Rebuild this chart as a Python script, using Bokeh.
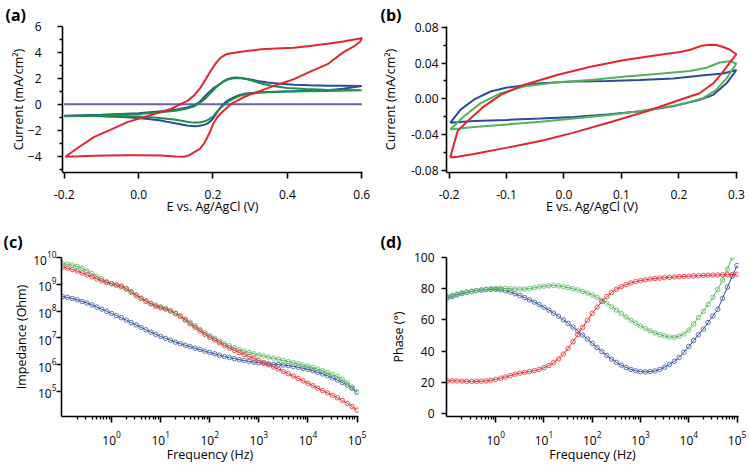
from bokeh.plotting import figure
from bokeh.layouts import column, row
from bokeh.models import FixedTicker, NumeralTickFormatter, LogTickFormatter, Range1d
from bokeh.embed import file_html
from bokeh.resources import INLINE

FONT = "Open Sans"

# ---------------- panel (a): CV, large scale ----------------
A_RED_E = [-0.197, -0.16, -0.119, -0.07, -0.03, 0.02, 0.06, 0.09, 0.105, 0.12, 0.132, 0.15, 0.167, 0.18,
           0.194, 0.21, 0.221, 0.235, 0.257, 0.29, 0.329, 0.37, 0.418, 0.46, 0.508, 0.55, 0.58, 0.595, 0.602,
           0.595, 0.58, 0.55, 0.508, 0.46, 0.418, 0.391, 0.36, 0.329, 0.3, 0.28, 0.266, 0.25, 0.239, 0.225,
           0.212, 0.2, 0.194, 0.185, 0.176, 0.165, 0.15, 0.135, 0.123, 0.1, 0.06, 0.0, -0.03, -0.08, -0.119,
           -0.16, -0.197]
A_RED_I = [-4.05, -3.3, -2.52, -1.9, -1.38, -0.95, -0.61, -0.33, -0.1, 0.1, 0.28, 0.7, 1.3, 1.9,
           2.58, 3.25, 3.6, 3.85, 3.98, 4.1, 4.24, 4.3, 4.36, 4.5, 4.67, 4.85, 5.0, 5.08, 5.13,
           4.8, 4.49, 4.0, 3.09, 2.5, 1.94, 1.68, 1.38, 1.05, 0.75, 0.5, 0.28, 0.05, -0.23, -0.6,
           -0.99, -1.55, -2.0, -2.55, -3.03, -3.45, -3.7, -3.95, -4.05, -4.03, -3.95, -3.93, -3.93, -3.95, -3.98,
           -4.02, -4.05]

A_BLUE_E = [-0.2, -0.1, 0.0, 0.06, 0.1, 0.13, 0.15, 0.165, 0.176, 0.19, 0.2, 0.212, 0.225, 0.239, 0.25,
            0.262, 0.275, 0.293, 0.32, 0.347, 0.38, 0.418, 0.46, 0.508, 0.55, 0.6,
            0.55, 0.508, 0.46, 0.418, 0.37, 0.329, 0.3, 0.284, 0.27, 0.257, 0.248, 0.239, 0.23, 0.221,
            0.212, 0.203, 0.194, 0.185, 0.172, 0.16, 0.15, 0.13, 0.105, 0.08, 0.06, 0.02, -0.03, -0.08,
            -0.12, -0.16, -0.2]
A_BLUE_I = [-0.88, -0.82, -0.7, -0.55, -0.42, -0.25, -0.1, 0.2, 0.54, 0.95, 1.2, 1.43, 1.7, 1.94, 2.03,
            2.07, 2.03, 1.94, 1.8, 1.68, 1.58, 1.5, 1.46, 1.43, 1.42, 1.4,
            1.2, 1.08, 1.04, 1.0, 0.96, 0.92, 0.86, 0.8, 0.7, 0.54, 0.42, 0.28, 0.05, -0.23,
            -0.6, -0.99, -1.3, -1.5, -1.63, -1.68, -1.7, -1.65, -1.5, -1.38, -1.25, -1.12, -1.0, -0.94,
            -0.9, -0.89, -0.88]

A_GREEN_E = [-0.2, -0.1, 0.0, 0.06, 0.1, 0.13, 0.15, 0.165, 0.18, 0.195, 0.21, 0.225, 0.24, 0.252, 0.265,
             0.278, 0.29, 0.31, 0.33, 0.36, 0.4, 0.45, 0.5, 0.55, 0.6,
             0.5, 0.4, 0.33, 0.29, 0.275, 0.26, 0.25, 0.24, 0.23, 0.22, 0.21, 0.2, 0.19, 0.18, 0.17,
             0.16, 0.145, 0.13, 0.1, 0.05, 0.0, -0.05, -0.1, -0.15, -0.2]
A_GREEN_I = [-0.92, -0.85, -0.75, -0.62, -0.5, -0.33, -0.15, 0.12, 0.45, 0.9, 1.35, 1.7, 1.9, 1.99, 2.03,
             2.0, 1.95, 1.78, 1.6, 1.4, 1.25, 1.17, 1.12, 1.1, 1.08,
             1.03, 0.98, 0.9, 0.78, 0.68, 0.5, 0.35, 0.2, -0.05, -0.3, -0.6, -0.95, -1.15, -1.3, -1.38,
             -1.42, -1.42, -1.35, -1.2, -1.05, -0.95, -0.92, -0.9, -0.9, -0.92]

A_PURPLE_E = [-0.2, 0.6]
A_PURPLE_I = [0.0, 0.0]

A_X_TICKS = [-0.2, 0.0, 0.2, 0.4, 0.6]
A_Y_TICKS = [-4, -2, 0, 2, 4, 6]
A_Y_MINOR = [-5, -3, -1, 1, 3, 5]

# ---------------- panel (b): CV, small scale ----------------
B_RED_E = [-0.198, -0.185, -0.162, -0.139, -0.11, -0.07, -0.012, 0.046, 0.103, 0.161, 0.202, 0.22, 0.24,
           0.254, 0.265, 0.277, 0.287, 0.3,
           0.288, 0.277, 0.26, 0.236, 0.202, 0.144, 0.086, 0.017, -0.041, -0.099, -0.157, -0.185, -0.198]
B_RED_I = [-0.0658, -0.036, -0.0215, -0.0085, 0.0044, 0.0155, 0.0266, 0.0358, 0.0432, 0.0488, 0.0524, 0.055,
           0.0595, 0.0605, 0.0603, 0.058, 0.0555, 0.0499,
           0.04, 0.0303, 0.0173, 0.0062, -0.0011, -0.0141, -0.0252, -0.038, -0.0473, -0.0548, -0.062, -0.065,
           -0.0658]

B_BLUE_E = [-0.198, -0.18, -0.157, -0.128, -0.099, -0.041, 0.017, 0.075, 0.132, 0.19, 0.248, 0.277, 0.3,
            0.283, 0.26, 0.236, 0.19, 0.132, 0.075, 0.017, -0.041, -0.099, -0.157, -0.198]
B_BLUE_I = [-0.027, -0.0122, -0.0011, 0.0081, 0.0125, 0.0173, 0.0192, 0.02, 0.0211, 0.0228, 0.0266, 0.0284,
            0.0322,
            0.0173, 0.0044, -0.0011, -0.0085, -0.0141, -0.0177, -0.0204, -0.0222, -0.0237, -0.025, -0.027]

B_GREEN_E = [-0.198, -0.174, -0.145, -0.11, -0.07, -0.012, 0.046, 0.103, 0.161, 0.219, 0.248, 0.271, 0.288,
             0.3,
             0.283, 0.265, 0.242, 0.202, 0.132, 0.075, 0.017, -0.041, -0.099, -0.157, -0.198]
B_GREEN_I = [-0.0344, -0.0196, -0.0049, 0.0062, 0.0136, 0.0184, 0.0211, 0.0247, 0.0277, 0.031, 0.0347,
             0.0406, 0.0421, 0.0395,
             0.0228, 0.01, 0.0007, -0.0066, -0.0141, -0.0185, -0.0222, -0.0259, -0.0288, -0.0317, -0.0344]

B_X_TICKS = [-0.2, -0.1, 0.0, 0.1, 0.2, 0.3]
B_Y_TICKS = [-0.08, -0.04, 0.0, 0.04, 0.08]
B_Y_MINOR = [-0.06, -0.02, 0.02, 0.06]

# ---------------- panels (c), (d): impedance spectra ----------------
FREQ_HZ = [0.1, 0.126, 0.158, 0.2, 0.251, 0.316, 0.398, 0.501, 0.631, 0.794,
           1.0, 1.26, 1.58, 2.0, 2.51, 3.16, 3.98, 5.01, 6.31, 7.94,
           10, 12.6, 15.8, 20, 25.1, 31.6, 39.8, 50.1, 63.1, 79.4,
           100, 126, 158, 200, 251, 316, 398, 501, 631, 794,
           1000, 1260, 1580, 2000, 2510, 3160, 3980, 5010, 6310, 7940,
           10000, 12600, 15800, 20000, 25100, 31600, 39800, 50100, 63100, 79400,
           100000]

# log10 of |Z| in Ohm
C_GREEN_LOGZ = [9.77, 9.75, 9.72, 9.67, 9.6, 9.5, 9.4, 9.3, 9.2, 9.1,
                9.02, 8.96, 8.9, 8.82, 8.7, 8.58, 8.47, 8.37, 8.29, 8.22,
                8.16, 8.1, 8.02, 7.92, 7.82, 7.7, 7.58, 7.45, 7.32, 7.19,
                7.08, 6.98, 6.88, 6.78, 6.7, 6.63, 6.56, 6.5, 6.45, 6.4,
                6.36, 6.32, 6.28, 6.24, 6.2, 6.15, 6.11, 6.07, 6.03, 5.98,
                5.94, 5.89, 5.83, 5.77, 5.7, 5.63, 5.55, 5.45, 5.32, 5.16,
                4.97]
C_RED_LOGZ = [9.64, 9.6, 9.55, 9.49, 9.42, 9.35, 9.28, 9.2, 9.13, 9.07,
              9.02, 8.98, 8.93, 8.84, 8.72, 8.6, 8.48, 8.37, 8.27, 8.18,
              8.12, 8.07, 8.0, 7.91, 7.8, 7.66, 7.52, 7.39, 7.26, 7.13,
              7.02, 6.92, 6.81, 6.71, 6.62, 6.53, 6.45, 6.37, 6.3, 6.23,
              6.15, 6.07, 5.99, 5.91, 5.83, 5.74, 5.66, 5.57, 5.48, 5.39,
              5.3, 5.21, 5.12, 5.03, 4.94, 4.85, 4.76, 4.66, 4.55, 4.43,
              4.3]
C_BLUE_LOGZ = [8.54, 8.51, 8.47, 8.42, 8.36, 8.3, 8.23, 8.15, 8.07, 7.99,
               7.91, 7.83, 7.75, 7.66, 7.57, 7.48, 7.39, 7.3, 7.21, 7.13,
               7.05, 6.98, 6.91, 6.84, 6.78, 6.72, 6.67, 6.61, 6.56, 6.5,
               6.45, 6.4, 6.35, 6.3, 6.26, 6.22, 6.18, 6.15, 6.12, 6.09,
               6.07, 6.05, 6.03, 6.01, 6.0, 5.98, 5.96, 5.93, 5.9, 5.86,
               5.82, 5.77, 5.71, 5.65, 5.58, 5.5, 5.42, 5.33, 5.23, 5.11,
               4.97]

D_RED_PHASE = [21.0, 21.0, 20.9, 20.8, 20.7, 20.6, 20.6, 20.7, 20.9, 21.3,
               21.9, 22.6, 23.4, 24.3, 25.2, 25.9, 26.4, 26.9, 27.5, 28.3,
               29.4, 30.8, 32.6, 35.0, 38.1, 41.8, 46.0, 50.5, 55.2, 59.8,
               64.2, 68.2, 71.8, 74.9, 77.5, 79.6, 81.3, 82.6, 83.7, 84.5,
               85.2, 85.7, 86.2, 86.5, 86.8, 87.1, 87.3, 87.5, 87.7, 87.9,
               88.0, 88.2, 88.3, 88.5, 88.6, 88.7, 88.8, 88.9, 89.0, 89.1,
               89.3]
D_BLUE_PHASE = [74.0, 75.0, 76.0, 76.9, 77.6, 78.2, 78.7, 79.1, 79.4, 79.6,
                79.6, 79.3, 78.7, 77.9, 76.8, 75.6, 74.3, 72.9, 71.4, 69.8,
                68.1, 66.3, 64.4, 62.3, 60.1, 57.8, 55.4, 52.9, 50.3, 47.7,
                45.0, 42.3, 39.7, 37.2, 34.9, 32.8, 31.0, 29.5, 28.3, 27.4,
                26.9, 26.7, 26.9, 27.3, 28.3, 29.7, 31.5, 33.5, 36.0, 39.3,
                43.0, 46.8, 50.5, 54.1, 58.3, 62.5, 66.8, 73.8, 81.0, 88.0,
                94.8]
D_GREEN_PHASE = [75.2, 75.8, 76.6, 77.3, 77.9, 78.4, 78.9, 79.3, 79.7, 80.0,
                 80.2, 80.3, 80.2, 80.0, 79.8, 79.7, 79.8, 80.1, 80.6, 81.1,
                 81.6, 81.9, 82.0, 81.8, 81.3, 80.7, 80.0, 79.2, 78.3, 77.2,
                 76.0, 74.5, 72.7, 70.7, 68.5, 66.3, 64.1, 61.9, 59.8, 57.9,
                 56.1, 54.5, 53.0, 51.7, 50.6, 49.7, 49.1, 48.9, 49.6, 51.0,
                 53.5, 57.3, 61.5, 65.5, 69.9, 74.5, 79.5, 85.5, 92.5, 100.0,
                 108.0]

FREQ_TICKS = [1, 10, 100, 1000, 10000, 100000]
Z_TICKS = [1e5, 1e6, 1e7, 1e8, 1e9, 1e10]
PHASE_TICKS = [0, 20, 40, 60, 80, 100]

# ---------------- styling ----------------
RED = "#e2262d"
BLUE = "#2b4b9b"
GREEN_DARK = "#1e8f4c"
GREEN = "#52b45a"
PURPLE = "#6e5fb0"
RED_M = "#e0424a"
BLUE_M = "#4a66ad"
GREEN_M = "#62bd69"


def make_fig(w, h, xr, yr, mb, x_type="linear", y_type="linear"):
    p = figure(width=w, height=h, x_range=xr, y_range=yr, x_axis_type=x_type, y_axis_type=y_type,
               output_backend="svg", toolbar_location=None,
               min_border_left=mb[0], min_border_right=mb[1], min_border_top=mb[2], min_border_bottom=mb[3])
    p.xgrid.visible = False
    p.ygrid.visible = False
    p.outline_line_color = None
    p.background_fill_color = "white"
    p.border_fill_color = "white"
    for ax in (p.xaxis[0], p.yaxis[0]):
        ax.axis_line_width = 1.6
        ax.axis_line_color = "black"
        ax.major_tick_line_width = 1.6
        ax.major_tick_line_color = "black"
        ax.major_tick_in = 0
        ax.major_tick_out = 5
        ax.minor_tick_line_width = 1.3
        ax.minor_tick_line_color = "black"
        ax.minor_tick_in = 0
        ax.minor_tick_out = 3
        ax.major_label_text_font = FONT
        ax.major_label_text_font_size = "12px"
        ax.major_label_text_color = "black"
        ax.axis_label_text_font = FONT
        ax.axis_label_text_font_size = "12.5px"
        ax.axis_label_text_font_style = "normal"
        ax.axis_label_text_color = "black"
    p.xaxis[0].major_tick_out = 6
    return p


def panel_title(p, text, offset, standoff):
    p.title.text = text
    p.title.align = "left"
    p.title.offset = offset
    p.title.standoff = standoff
    p.title.text_font = FONT
    p.title.text_font_style = "bold"
    p.title.text_font_size = "16px"
    p.title.text_color = "black"


ROW1_H = 223
ROW2_H = 242
COL_W = 375

# (a)
pa = make_fig(COL_W, ROW1_H, Range1d(-0.2045, 0.602), Range1d(-5.27, 6.0), (62, 13, 25, 51))
pa.xaxis[0].ticker = FixedTicker(ticks=A_X_TICKS)
pa.xaxis[0].formatter = NumeralTickFormatter(format="0.0")
pa.yaxis[0].ticker = FixedTicker(ticks=A_Y_TICKS, minor_ticks=A_Y_MINOR)
pa.xaxis[0].axis_label = "E vs. Ag/AgCl (V)"
pa.yaxis[0].axis_label = "Current (mA/cm\u00b2)"
pa.yaxis[0].major_label_standoff = 16
pa.yaxis[0].axis_label_standoff = -2
pa.xaxis[0].major_label_standoff = 11
pa.xaxis[0].axis_label_standoff = -4
pa.line(A_PURPLE_E, A_PURPLE_I, line_color=PURPLE, line_width=2)
pa.line(A_BLUE_E, A_BLUE_I, line_color=BLUE, line_width=2)
pa.line(A_GREEN_E, A_GREEN_I, line_color=GREEN_DARK, line_width=2)
pa.line(A_RED_E, A_RED_I, line_color=RED, line_width=2)
panel_title(pa, "(a)", -57, 2)

# (b)
pb = make_fig(COL_W, ROW1_H, Range1d(-0.2045, 0.302), Range1d(-0.0827, 0.081), (71, 13, 25, 51))
pb.xaxis[0].ticker = FixedTicker(ticks=B_X_TICKS)
pb.xaxis[0].formatter = NumeralTickFormatter(format="0.0")
pb.yaxis[0].ticker = FixedTicker(ticks=B_Y_TICKS, minor_ticks=B_Y_MINOR)
pb.yaxis[0].formatter = NumeralTickFormatter(format="0.00")
pb.xaxis[0].axis_label = "E vs. Ag/AgCl (V)"
pb.yaxis[0].axis_label = "Current (mA/cm\u00b2)"
pb.yaxis[0].major_label_standoff = 3
pb.yaxis[0].axis_label_standoff = 9
pb.xaxis[0].major_label_standoff = 11
pb.xaxis[0].axis_label_standoff = -4
pb.line(B_BLUE_E, B_BLUE_I, line_color=BLUE, line_width=2)
pb.line(B_GREEN_E, B_GREEN_I, line_color=GREEN, line_width=2)
pb.line(B_RED_E, B_RED_I, line_color=RED, line_width=2)
panel_title(pb, "(b)", -66, 2)

FREQ_MINOR = [m * 10.0 ** d for d in range(-1, 5) for m in range(2, 10)]

# (c)
pc = make_fig(COL_W, ROW2_H, Range1d(10 ** -1.02, 10 ** 5.03), Range1d(10 ** 4.06, 1e10), (61, 17, 34, 47),
              x_type="log", y_type="log")
pc.xaxis[0].ticker = FixedTicker(ticks=FREQ_TICKS, minor_ticks=FREQ_MINOR)
pc.xaxis[0].formatter = LogTickFormatter()
pc.yaxis[0].ticker = FixedTicker(ticks=Z_TICKS)
pc.yaxis[0].formatter = LogTickFormatter()
pc.xaxis[0].axis_label = "Frequency (Hz)"
pc.yaxis[0].axis_label = "Impedance (Ohm)"
pc.yaxis[0].major_label_standoff = 0
pc.yaxis[0].axis_label_standoff = 0
pc.xaxis[0].major_label_standoff = 8
pc.xaxis[0].axis_label_standoff = -2
for logz, col, mcol in ((C_BLUE_LOGZ, BLUE, BLUE_M), (C_GREEN_LOGZ, GREEN, GREEN_M), (C_RED_LOGZ, RED, RED_M)):
    z = [10 ** v for v in logz]
    pc.line(FREQ_HZ, z, line_color=col, line_width=1)
    pc.scatter(FREQ_HZ, z, marker="circle", size=4.5, fill_color=None, line_color=mcol, line_width=0.9)
panel_title(pc, "(c)", -58, 9)

# (d)
pd_ = make_fig(COL_W, ROW2_H, Range1d(10 ** -1.02, 10 ** 5.03), Range1d(-1.9, 100), (71, 12, 34, 47),
               x_type="log")
pd_.xaxis[0].ticker = FixedTicker(ticks=FREQ_TICKS, minor_ticks=FREQ_MINOR)
pd_.xaxis[0].formatter = LogTickFormatter()
pd_.yaxis[0].ticker = FixedTicker(ticks=PHASE_TICKS)
pd_.xaxis[0].axis_label = "Frequency (Hz)"
pd_.yaxis[0].axis_label = "Phase (\u00b0)"
pd_.yaxis[0].major_label_standoff = 7
pd_.yaxis[0].axis_label_standoff = 4
pd_.xaxis[0].major_label_standoff = 8
pd_.xaxis[0].axis_label_standoff = -2
for ph, col, mcol in ((D_BLUE_PHASE, BLUE, BLUE_M), (D_GREEN_PHASE, GREEN, GREEN_M), (D_RED_PHASE, RED, RED_M)):
    pd_.line(FREQ_HZ, ph, line_color=col, line_width=1)
    pd_.scatter(FREQ_HZ, ph, marker="circle", size=4.5, fill_color=None, line_color=mcol, line_width=0.9)
panel_title(pd_, "(d)", -66, 9)

layout = column(row(pa, pb), row(pc, pd_))
open("out.html", "w").write(file_html(layout, INLINE))
